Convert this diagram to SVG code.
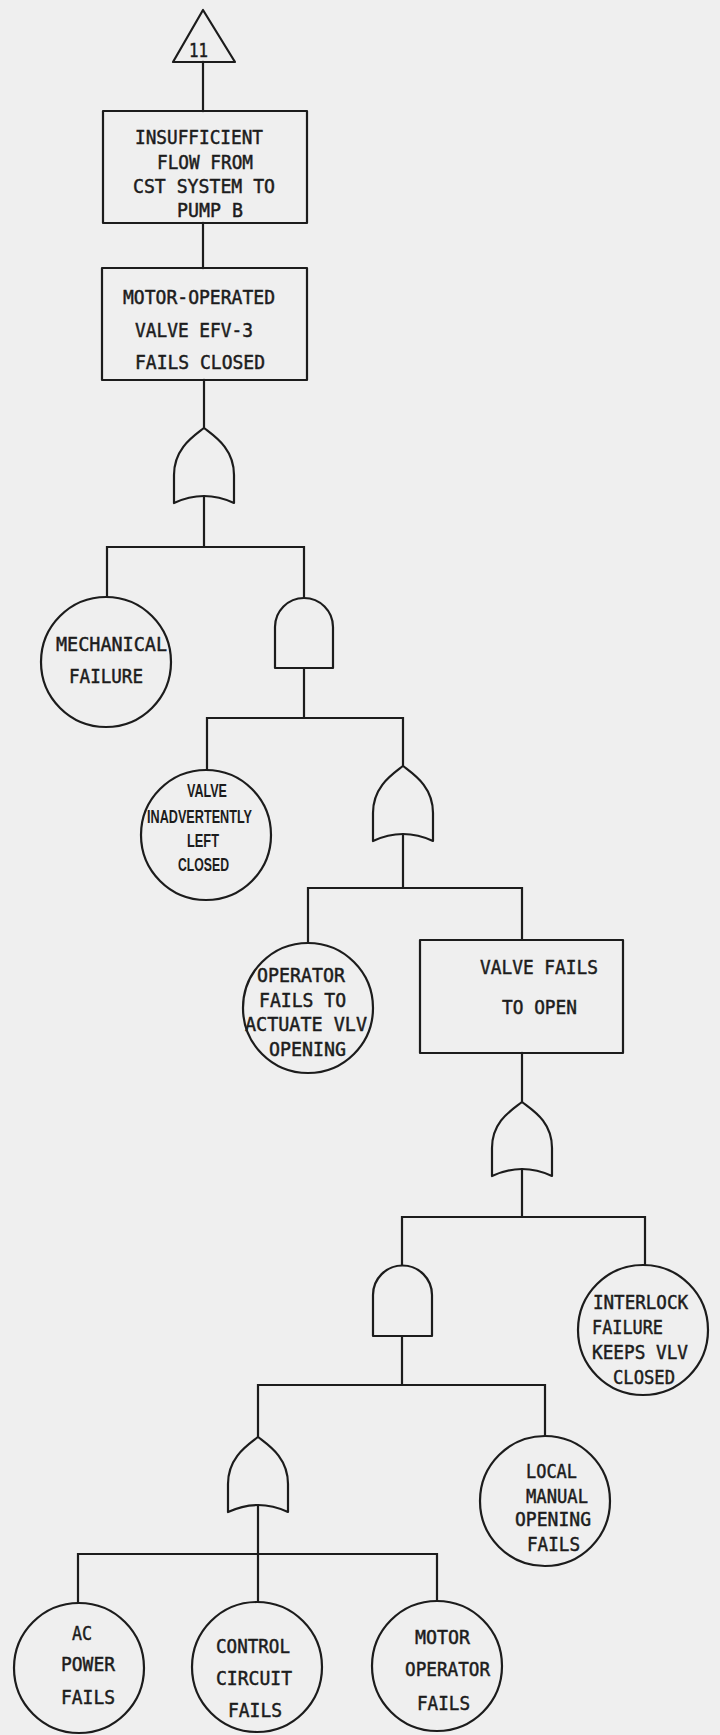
<svg xmlns="http://www.w3.org/2000/svg" width="720" height="1735" viewBox="0 0 720 1735">
  <style>
    .bg { fill: #efefef; }
    .shape { fill: none; stroke: #1c1c1c; stroke-width: 2.2; stroke-linejoin: round; }
    .wire { fill: none; stroke: #1c1c1c; stroke-width: 2.2; stroke-linecap: square; }
    .lbl { font-family: "DejaVu Sans Mono", "Liberation Mono", monospace; font-size: 20px; fill: #1c1c1c; stroke: #1c1c1c; stroke-width: 0.5; }
    .tight { font-family: "Liberation Sans", Arial, sans-serif; font-size: 19px; font-weight: bold; fill: #1c1c1c; }
  </style>
  <rect class="bg" x="0" y="0" width="720" height="1735"/>

  <!-- connectors -->
  <g id="connectors" class="wire">
    <path d="M203 62 V111"/>
    <path d="M203 223 V268"/>
    <path d="M204 380 V428"/>
    <path d="M204 496 V547 M107 547 H304 M107 547 V597 M304 547 V598"/>
    <path d="M304 668 V718 M207 718 H403 M207 718 V770 M403 718 V766"/>
    <path d="M403 834 V888 M308 888 H522 M308 888 V943 M522 888 V940"/>
    <path d="M522 1053 V1102"/>
    <path d="M522 1169 V1217 M402 1217 H645 M402 1217 V1265 M645 1217 V1265"/>
    <path d="M402 1336 V1385 M258 1385 H545 M258 1385 V1437 M545 1385 V1436"/>
    <path d="M258 1505 V1554 M78 1554 H437 M78 1554 V1603 M258 1554 V1602 M437 1554 V1601"/>
  </g>

  <!-- transfer-in triangle -->
  <g id="transfer11">
    <polygon class="shape" points="203,10 173,62 235,62"/>
    <text class="lbl" x="189" y="57" font-size="17" textLength="19" lengthAdjust="spacingAndGlyphs">11</text>
  </g>

  <g id="insufficientFlow">
    <rect class="shape" x="103" y="111" width="204" height="112"/>
    <text class="lbl" x="135" y="144" textLength="128" lengthAdjust="spacingAndGlyphs">INSUFFICIENT</text>
    <text class="lbl" x="157" y="169" textLength="96" lengthAdjust="spacingAndGlyphs">FLOW FROM</text>
    <text class="lbl" x="133" y="193" textLength="142" lengthAdjust="spacingAndGlyphs">CST SYSTEM TO</text>
    <text class="lbl" x="177" y="217" textLength="66" lengthAdjust="spacingAndGlyphs">PUMP B</text>
  </g>

  <g id="movFailsClosed">
    <rect class="shape" x="102" y="268" width="205" height="112"/>
    <text class="lbl" x="123" y="304" textLength="152" lengthAdjust="spacingAndGlyphs">MOTOR-OPERATED</text>
    <text class="lbl" x="135" y="337" textLength="118" lengthAdjust="spacingAndGlyphs">VALVE EFV-3</text>
    <text class="lbl" x="135" y="369" textLength="130" lengthAdjust="spacingAndGlyphs">FAILS CLOSED</text>
  </g>

  <!-- OR gate 1 -->
  <g id="or1">
    <path class="shape" d="M174 503 L174 475 C174 448 194 436 204 428 C214 436 234 448 234 475 L234 503 Q204 489 174 503 Z"/>
  </g>

  <g id="mechanicalFailure">
    <circle class="shape" cx="106" cy="662" r="65"/>
    <text class="lbl" x="56" y="651" textLength="111" lengthAdjust="spacingAndGlyphs">MECHANICAL</text>
    <text class="lbl" x="69" y="683" textLength="74" lengthAdjust="spacingAndGlyphs">FAILURE</text>
  </g>

  <!-- AND gate 1 -->
  <g id="and1">
    <path class="shape" d="M275 668 L275 627 A29 29 0 0 1 333 627 L333 668 Z"/>
  </g>

  <g id="valveLeftClosed">
    <circle class="shape" cx="206" cy="835" r="65"/>
    <text class="tight" x="187" y="797" textLength="40" lengthAdjust="spacingAndGlyphs">VALVE</text>
    <text class="tight" x="147" y="823" textLength="105" lengthAdjust="spacingAndGlyphs">INADVERTENTLY</text>
    <text class="tight" x="187" y="847" textLength="32" lengthAdjust="spacingAndGlyphs">LEFT</text>
    <text class="tight" x="178" y="871" textLength="51" lengthAdjust="spacingAndGlyphs">CLOSED</text>
  </g>

  <!-- OR gate 2 -->
  <g id="or2">
    <path class="shape" d="M373 841 L373 813 C373 786 393 774 403 766 C413 774 433 786 433 813 L433 841 Q403 827 373 841 Z"/>
  </g>

  <g id="operatorFails">
    <circle class="shape" cx="308" cy="1008" r="65"/>
    <text class="lbl" x="257" y="982" textLength="88" lengthAdjust="spacingAndGlyphs">OPERATOR</text>
    <text class="lbl" x="259" y="1007" textLength="87" lengthAdjust="spacingAndGlyphs">FAILS TO</text>
    <text class="lbl" x="245" y="1031" textLength="122" lengthAdjust="spacingAndGlyphs">ACTUATE VLV</text>
    <text class="lbl" x="269" y="1056" textLength="77" lengthAdjust="spacingAndGlyphs">OPENING</text>
  </g>

  <g id="valveFailsToOpen">
    <rect class="shape" x="420" y="940" width="203" height="113"/>
    <text class="lbl" x="480" y="974" textLength="118" lengthAdjust="spacingAndGlyphs">VALVE FAILS</text>
    <text class="lbl" x="502" y="1014" textLength="75" lengthAdjust="spacingAndGlyphs">TO OPEN</text>
  </g>

  <!-- OR gate 3 -->
  <g id="or3">
    <path class="shape" d="M492 1176 L492 1148 C492 1121 512 1110 522 1102 C532 1110 552 1121 552 1148 L552 1176 Q522 1162 492 1176 Z"/>
  </g>

  <!-- AND gate 2 -->
  <g id="and2">
    <path class="shape" d="M373 1336 L373 1295 A29.5 29.5 0 0 1 432 1295 L432 1336 Z"/>
  </g>

  <g id="interlockFailure">
    <circle class="shape" cx="643" cy="1330" r="65"/>
    <text class="lbl" x="593" y="1309" textLength="95" lengthAdjust="spacingAndGlyphs">INTERLOCK</text>
    <text class="lbl" x="592" y="1334" textLength="71" lengthAdjust="spacingAndGlyphs">FAILURE</text>
    <text class="lbl" x="592" y="1359" textLength="96" lengthAdjust="spacingAndGlyphs">KEEPS VLV</text>
    <text class="lbl" x="613" y="1384" textLength="62" lengthAdjust="spacingAndGlyphs">CLOSED</text>
  </g>

  <!-- OR gate 4 -->
  <g id="or4">
    <path class="shape" d="M228 1512 L228 1484 C228 1457 248 1445 258 1437 C268 1445 288 1457 288 1484 L288 1512 Q258 1498 228 1512 Z"/>
  </g>

  <g id="localManualFails">
    <circle class="shape" cx="545" cy="1501" r="65"/>
    <text class="lbl" x="526" y="1478" textLength="51" lengthAdjust="spacingAndGlyphs">LOCAL</text>
    <text class="lbl" x="526" y="1503" textLength="62" lengthAdjust="spacingAndGlyphs">MANUAL</text>
    <text class="lbl" x="515" y="1526" textLength="76" lengthAdjust="spacingAndGlyphs">OPENING</text>
    <text class="lbl" x="527" y="1551" textLength="53" lengthAdjust="spacingAndGlyphs">FAILS</text>
  </g>

  <g id="acPowerFails">
    <circle class="shape" cx="79" cy="1668" r="65"/>
    <text class="lbl" x="72" y="1640" textLength="20" lengthAdjust="spacingAndGlyphs">AC</text>
    <text class="lbl" x="61" y="1671" textLength="54" lengthAdjust="spacingAndGlyphs">POWER</text>
    <text class="lbl" x="61" y="1704" textLength="54" lengthAdjust="spacingAndGlyphs">FAILS</text>
  </g>

  <g id="controlCircuitFails">
    <circle class="shape" cx="257" cy="1667" r="65"/>
    <text class="lbl" x="216" y="1653" textLength="74" lengthAdjust="spacingAndGlyphs">CONTROL</text>
    <text class="lbl" x="216" y="1685" textLength="76" lengthAdjust="spacingAndGlyphs">CIRCUIT</text>
    <text class="lbl" x="228" y="1717" textLength="54" lengthAdjust="spacingAndGlyphs">FAILS</text>
  </g>

  <g id="motorOperatorFails">
    <circle class="shape" cx="437" cy="1666" r="65"/>
    <text class="lbl" x="415" y="1644" textLength="55" lengthAdjust="spacingAndGlyphs">MOTOR</text>
    <text class="lbl" x="405" y="1676" textLength="85" lengthAdjust="spacingAndGlyphs">OPERATOR</text>
    <text class="lbl" x="417" y="1710" textLength="53" lengthAdjust="spacingAndGlyphs">FAILS</text>
  </g>
</svg>
